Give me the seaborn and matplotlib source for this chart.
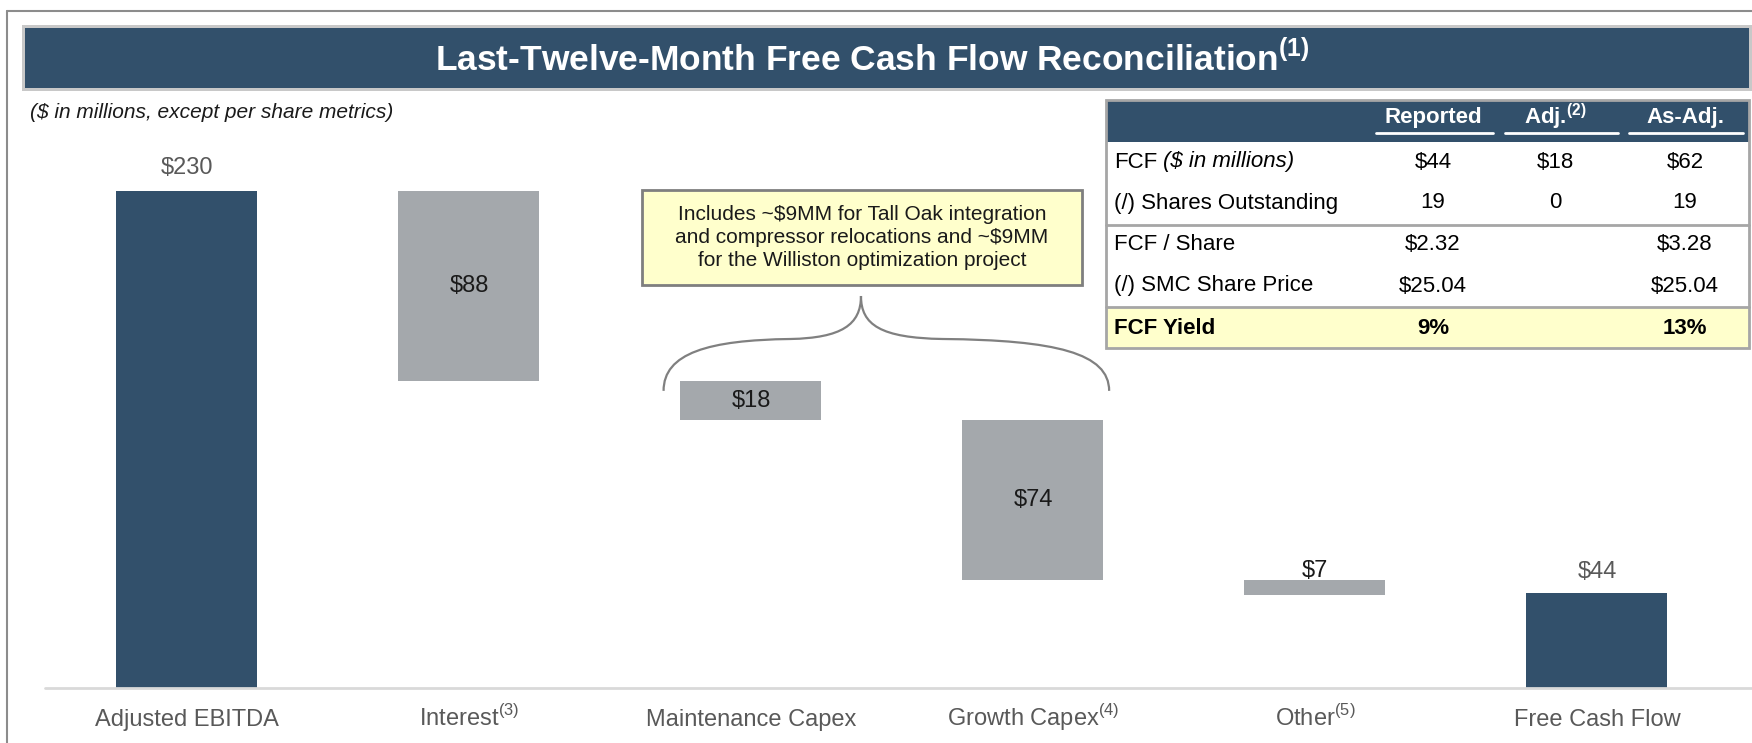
import numpy as np
import pandas as pd
import matplotlib
matplotlib.use("Agg")
import matplotlib.pyplot as plt
import matplotlib.transforms as mtransforms
import seaborn as sns
from matplotlib.patches import Rectangle, PathPatch
from matplotlib.path import Path
from matplotlib.lines import Line2D

# ---- data ----
categories = ["Adjusted EBITDA", "Interest", "Maintenance Capex", "Growth Capex", "Other", "Free Cash Flow"]
footnotes = ["", "(3)", "", "(4)", "(5)", ""]
ebitda = 230
deductions = [88, 18, 74, 7]
fcf = 44
value_labels = ["$230", "$88", "$18", "$74", "$7", "$44"]

table_cols = ["Reported", "Adj.", "As-Adj."]
table_col_notes = ["", "(2)", ""]
table_rows = ["FCF", "(/) Shares Outstanding", "FCF / Share", "(/) SMC Share Price", "FCF Yield"]
reported = ["$44", "19", "$2.32", "$25.04", "9%"]
adjusted = ["$18", "0", "", "", ""]
as_adjusted = ["$62", "19", "$3.28", "$25.04", "13%"]

title = "Last-Twelve-Month Free Cash Flow Reconciliation"
subtitle = "($ in millions, except per share metrics)"
callout = ("Includes ~\\$9MM for Tall Oak integration\n"
           "and compressor relocations and ~\\$9MM\n"
           "for the Williston optimization project")

NAVY = "#32506B"
GRAY = "#A4A8AC"
W, H = 1752, 743


def fx(px):
    return px / W


def fy(py):
    return 1 - py / H


sns.set_style("white")
plt.rcParams["font.family"] = ["Liberation Sans", "DejaVu Sans"]

fig = plt.figure(figsize=(W / 100, H / 100), dpi=100)
ax = fig.add_axes([fx(46), (H - 688) / H, (1738 - 46) / W, 540.25 / H])

# waterfall geometry
tops = ebitda - np.concatenate([[0], np.cumsum(deductions)[:-1]])
bottoms = tops - np.array(deductions)

totals = pd.DataFrame({"category": [categories[0], categories[-1]], "value": [ebitda, fcf]})
steps = pd.DataFrame({"category": categories[1:5], "value": deductions, "bottom": bottoms})

sns.barplot(data=totals, x="category", y="value", order=categories, color=NAVY,
            saturation=1, width=0.5, errorbar=None, linewidth=0, ax=ax)
sns.barplot(data=steps, x="category", y="value", order=categories, color=GRAY,
            saturation=1, width=0.5, errorbar=None, linewidth=0,
            bottom=steps["bottom"].values, ax=ax)

ax.set_xlim(-0.5, 5.5)
ax.set_ylim(0, 250)
ax.set_xticks([])
ax.set_yticks([])
ax.set_xlabel("")
ax.set_ylabel("")
sns.despine(ax=ax, left=True, bottom=True)

# value labels
ax.text(0, ebitda + 10.5, value_labels[0], ha="center", va="center", fontsize=17, color="#595959")
ax.text(5, fcf + 9.5, value_labels[5], ha="center", va="center", fontsize=17, color="#595959")
for i, (t, b) in enumerate(zip(tops, bottoms)):
    if deductions[i] < 10:
        # thin bar: label sits on top of it
        ax.text(i + 1, t + 4, value_labels[i + 1], ha="center", va="center", fontsize=17, color="#1A1A1A")
    else:
        ax.text(i + 1, (t + b) / 2, value_labels[i + 1], ha="center", va="center", fontsize=17, color="#1A1A1A")

# category labels with footnotes
trans = mtransforms.blended_transform_factory(ax.transData, ax.transAxes)
for i, (c, n) in enumerate(zip(categories, footnotes)):
    lab = c if not n else c + r"$^{\mathregular{" + n + "}}$"
    ax.text(i, -38 / 540, lab, transform=trans, ha="center", va="baseline",
            fontsize=17, color="#595959")

# baseline
fig.add_artist(Line2D([fx(45), fx(1752)], [fy(688), fy(688)], color="#D9D9D9", lw=2))

# callout box and brace
ax.add_patch(Rectangle((1.613, 186.5), 3.174 - 1.613, 230.4 - 186.5, facecolor="#FFFFCC",
                       edgecolor="#7F7F7F", lw=2, zorder=3))
ax.text(2.393, 208.4, callout, ha="center", va="center", fontsize=15, color="#1A1A1A",
        linespacing=1.27, zorder=4)
brace = Path(
    [(1.69, 137.5), (1.69, 155), (1.85, 161), (2.14, 161.5),
     (2.32, 162), (2.39, 168), (2.39, 181.4),
     (2.39, 168), (2.46, 162), (2.68, 161.5),
     (3.08, 161), (3.27, 155), (3.27, 137.5)],
    [Path.MOVETO, Path.CURVE4, Path.CURVE4, Path.CURVE4,
     Path.CURVE4, Path.CURVE4, Path.CURVE4,
     Path.CURVE4, Path.CURVE4, Path.CURVE4,
     Path.CURVE4, Path.CURVE4, Path.CURVE4])
ax.add_patch(PathPatch(brace, fill=False, edgecolor="#808080", lw=1.6, zorder=3))

# outer frame and title banner
fig.add_artist(Line2D([fx(7), fx(1752)], [fy(11), fy(11)], color="#8C8C8C", lw=1.5))
fig.add_artist(Line2D([fx(7), fx(7)], [fy(11), fy(743)], color="#8C8C8C", lw=1.5))
fig.add_artist(Rectangle((fx(22), fy(91)), fx(1752 - 22), (91 - 25) / H,
                         facecolor="#C8C8C8", edgecolor="none"))
fig.add_artist(Rectangle((fx(25), fy(88)), fx(1749 - 25), (88 - 28) / H,
                         facecolor=NAVY, edgecolor="none"))
fig.text(fx(872), fy(58), title + r"$^{\mathregular{(1)}}$", ha="center", va="center",
         fontsize=25.5, fontweight="bold", color="white")
fig.text(fx(30), fy(112), subtitle, ha="left", va="center", fontsize=15,
         style="italic", color="#1A1A1A")

# ---- table ----
tx0, tx1, ty0, ty1 = 1106, 1749, 100, 348
fig.add_artist(Rectangle((fx(tx0), fy(ty1)), fx(tx1 - tx0), (ty1 - 307) / H,
                         facecolor="#FFFFCC", edgecolor="none"))
fig.add_artist(Rectangle((fx(tx0), fy(142)), fx(tx1 - tx0), (142 - ty0) / H,
                         facecolor=NAVY, edgecolor="none"))
fig.add_artist(Rectangle((fx(tx0), fy(ty1)), fx(tx1 - tx0), (ty1 - ty0) / H,
                         facecolor="none", edgecolor="#A6A6A6", lw=2))
for sy in [225, 307]:
    fig.add_artist(Line2D([fx(tx0), fx(tx1)], [fy(sy), fy(sy)], color="#A6A6A6", lw=2))

col_x = [1433, 1555, 1685]
under = [(1376, 1493), (1505, 1618), (1629, 1743)]
for cx, (u0, u1), name, note in zip(col_x, under, table_cols, table_col_notes):
    lab = name if not note else name + r"$^{\mathregular{" + note + "}}$"
    fig.text(fx(cx), fy(117), lab, ha="center", va="center", fontsize=16,
             fontweight="bold", color="white")
    fig.add_artist(Line2D([fx(u0), fx(u1)], [fy(133), fy(133)], color="white", lw=2))

row_y = [162, 203, 245, 286, 328]
renderer = fig.canvas.get_renderer()
for ry, name, r, a, aa in zip(row_y, table_rows, reported, adjusted, as_adjusted):
    bold = "bold" if name == "FCF Yield" else "normal"
    t = fig.text(fx(1114), fy(ry), name, ha="left", va="center", fontsize=16,
                 fontweight=bold, color="black")
    if name == "FCF":
        bb = t.get_window_extent(renderer)
        fig.text(bb.x1 / W + fx(6), fy(ry), "(\\$ in millions)", ha="left", va="center",
                 fontsize=16, style="italic", color="black")
    for cx, v in zip(col_x, [r, a, aa]):
        fig.text(fx(cx), fy(ry), v, ha="center", va="center", fontsize=16,
                 fontweight=bold, color="black")

fig.savefig("out.png", dpi=100)
